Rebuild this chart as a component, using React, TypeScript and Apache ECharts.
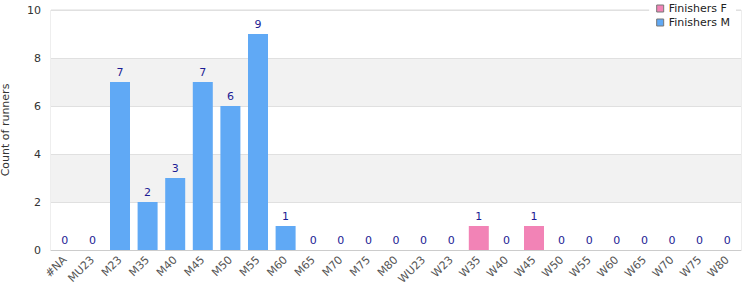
import React, { useEffect, useRef } from "react";
import * as echarts from "echarts";

const categories = ["#NA","MU23","M23","M35","M40","M45","M50","M55","M60","M65","M70","M75","M80","WU23","W23","W35","W40","W45","W50","W55","W60","W65","W70","W75","W80"];
const finishersM = [0,0,7,2,3,7,6,9,1,0,0,0,0,null,null,null,null,null,null,null,null,null,null,null,null];
const finishersF = [null,null,null,null,null,null,null,null,null,null,null,null,null,0,0,1,0,1,0,0,0,0,0,0,0];
const yTicks = { min: 0, max: 10, interval: 2 };

export default function App() {
  const ref = useRef<HTMLDivElement>(null);
  useEffect(() => {
    const chart = echarts.init(ref.current!, null, { renderer: "svg" });
    const label = { show: true, position: "top", color: "#1c1c94", fontSize: 11, fontFamily: "DejaVu Sans", distance: 4 };
    chart.setOption({
      animation: false,
      textStyle: { fontFamily: "DejaVu Sans" },
      grid: { left: 51, right: 9, top: 10, bottom: 50, outerBoundsMode: "none", containLabel: false, show: true, borderColor: "#dcdcdc", borderWidth: 1, backgroundColor: "transparent" },
      legend: {
        orient: "vertical",
        right: 14,
        top: 1,
        itemWidth: 7,
        itemHeight: 7,
        itemGap: 3,
        padding: [2, 6, 3, 7],
        backgroundColor: "#ffffff",
        textStyle: { fontSize: 11, color: "#222", fontFamily: "DejaVu Sans" },
        data: [
          { name: "Finishers F", icon: "rect", itemStyle: { borderColor: "#777", borderWidth: 1 } },
          { name: "Finishers M", icon: "rect", itemStyle: { borderColor: "#777", borderWidth: 1 } },
        ],
      },
      xAxis: {
        type: "category",
        data: categories,
        axisLine: { show: true, lineStyle: { color: "#cccccc" } },
        axisTick: { show: false },
        axisLabel: { rotate: 45, interval: 0, color: "#555", fontSize: 11, margin: 8 },
      },
      yAxis: {
        type: "value",
        min: yTicks.min,
        max: yTicks.max,
        interval: yTicks.interval,
        name: "Count of runners",
        nameLocation: "middle",
        nameGap: 40,
        nameTextStyle: { fontSize: 11, color: "#333" },
        axisLine: { show: false },
        axisTick: { show: false },
        axisLabel: { color: "#333", fontSize: 11, margin: 10 },
        splitLine: { show: true, lineStyle: { color: "#e0e0e0" } },
        splitArea: { show: true, areaStyle: { color: ["#ffffff", "#f2f2f2"] } },
      },
      series: [
        { name: "Finishers F", type: "bar", stack: "s", data: finishersF, barWidth: 20, itemStyle: { color: "#f283b6" }, label },
        { name: "Finishers M", type: "bar", stack: "s", data: finishersM, barWidth: 20, itemStyle: { color: "#60a9f5" }, label },
      ],
    });
    return () => chart.dispose();
  }, []);
  return <div ref={ref} style={{ width: 750, height: 300, position: "absolute", left: 0, top: 0 }} />;
}
